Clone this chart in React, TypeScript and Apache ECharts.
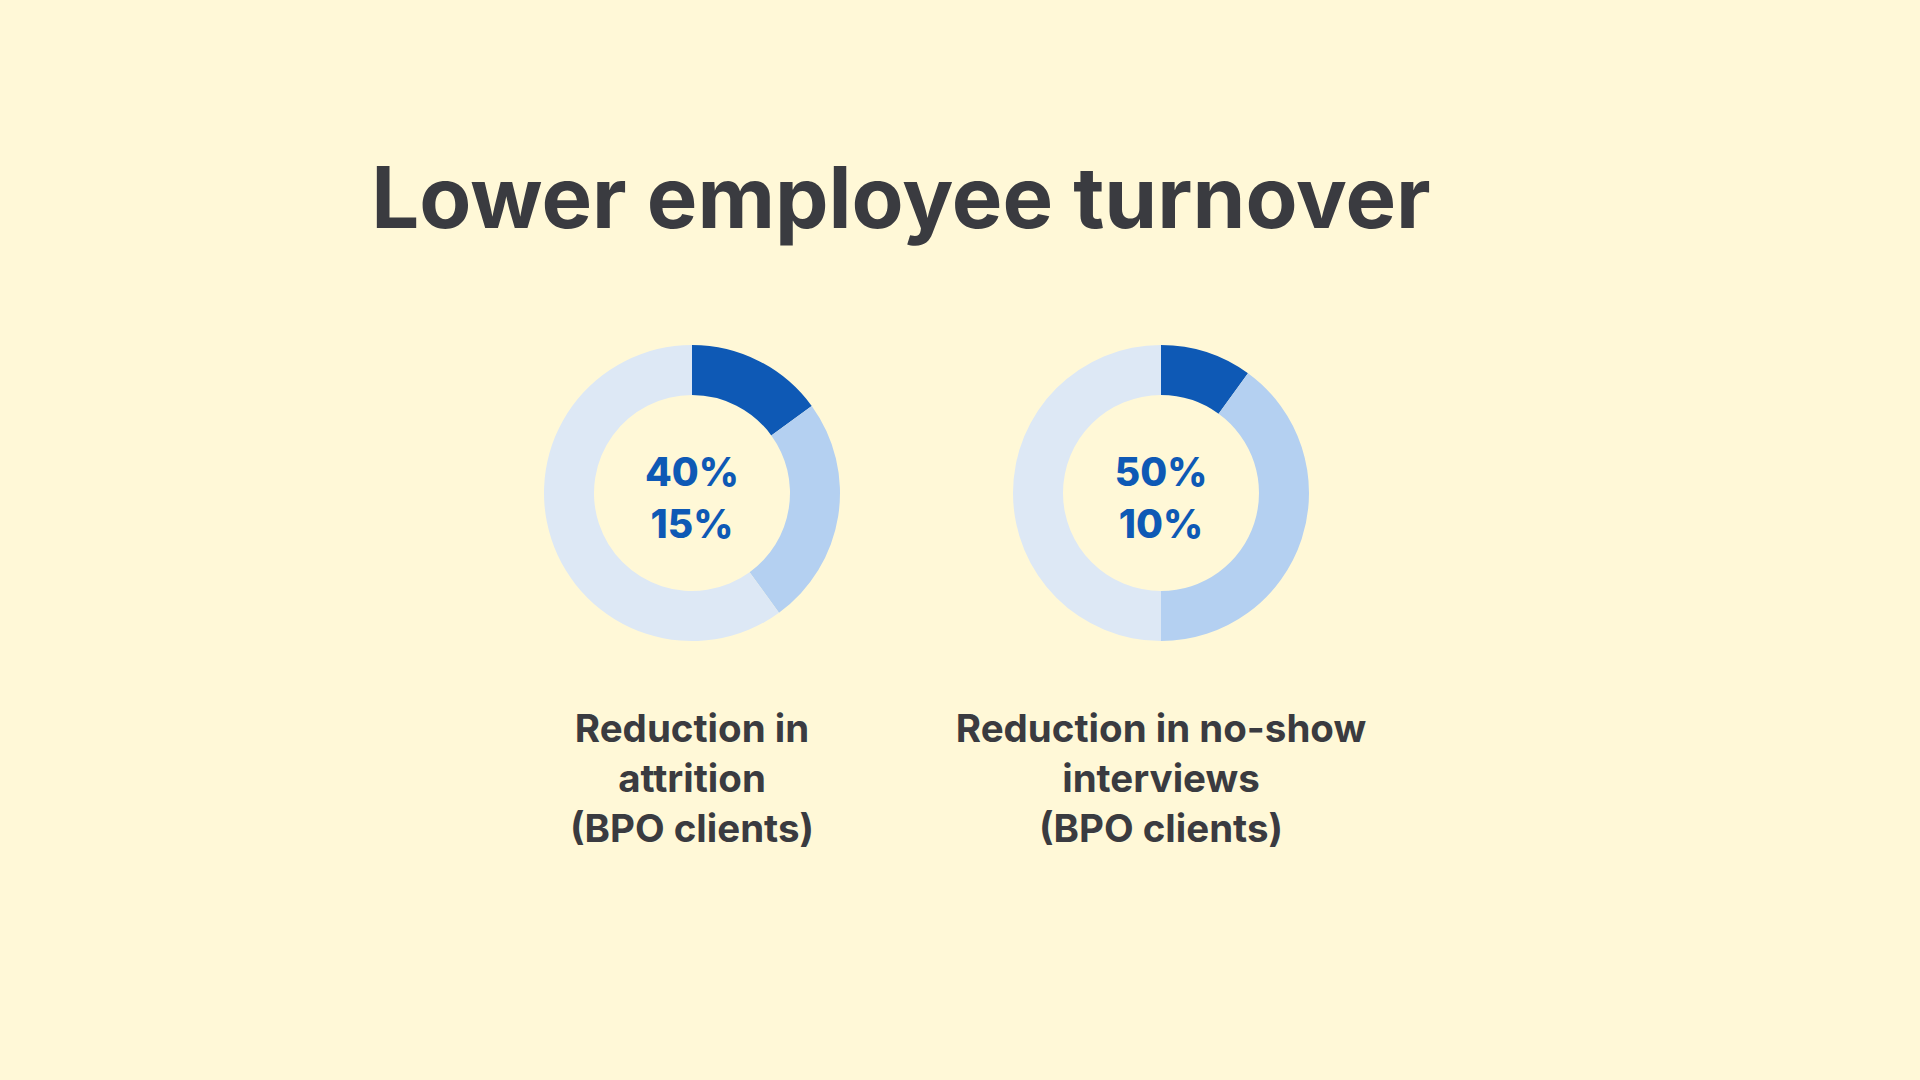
import React, { useEffect, useRef } from "react";
import * as echarts from "echarts";

const titleText = "Lower employee turnover";
const chartNames = ["attrition", "noShow"];
const attritionValues = [15, 25, 60];
const noShowValues = [10, 40, 50];
const centerLabels = [
  ["40%", "15%"],
  ["50%", "10%"],
];
const captions = [
  ["Reduction in", "attrition", "(BPO clients)"],
  ["Reduction in no-show", "interviews", "(BPO clients)"],
];
const sliceColors = ["#0E59B5", "#B4D0F1", "#DDE8F5"];

const BG = "#FFF8D7";
const TEXT = "#3A3B40";
const FONT = "Inter, 'Noto Sans', sans-serif";

export default function App() {
  const ref = useRef<HTMLDivElement>(null);
  useEffect(() => {
    if (!ref.current) return;
    const chart = echarts.init(ref.current, null, { renderer: "svg" });
    const centers = [
      [692, 493],
      [1161, 493],
    ];
    const datasets = [attritionValues, noShowValues];
    const series = datasets.map((vals, i) => ({
      type: "pie",
      name: chartNames[i],
      center: centers[i],
      radius: [98, 148],
      startAngle: 90,
      clockwise: true,
      silent: true,
      label: { show: false },
      labelLine: { show: false },
      itemStyle: { borderWidth: 0 },
      data: vals.map((v, j) => ({ value: v, itemStyle: { color: sliceColors[j] } })),
    }));
    const graphics: any[] = [
      {
        type: "text",
        x: 901,
        y: 240,
        style: {
          text: titleText,
          fill: TEXT,
          font: `bold 85px ${FONT}`,
          textAlign: "center",
          textVerticalAlign: "bottom",
        },
      },
    ];
    centers.forEach((c, i) => {
      centerLabels[i].forEach((t, k) => {
        graphics.push({
          type: "text",
          x: c[0],
          y: c[1] - 22 + k * 52,
          style: {
            text: t,
            fill: "#0E59B5",
            font: `800 39px ${FONT}`,
            textAlign: "center",
            textVerticalAlign: "middle",
          },
        });
      });
      captions[i].forEach((t, k) => {
        graphics.push({
          type: "text",
          x: c[0],
          y: 728 + k * 50,
          style: {
            text: t,
            fill: TEXT,
            font: `bold 38.5px ${FONT}`,
            textAlign: "center",
            textVerticalAlign: "middle",
          },
        });
      });
    });
    chart.setOption({
      animation: false,
      backgroundColor: BG,
      series,
      graphic: graphics,
    });
    return () => chart.dispose();
  }, []);
  return (
    <div
      ref={ref}
      style={{ position: "fixed", left: 0, top: 0, width: 1920, height: 1080 }}
    />
  );
}
